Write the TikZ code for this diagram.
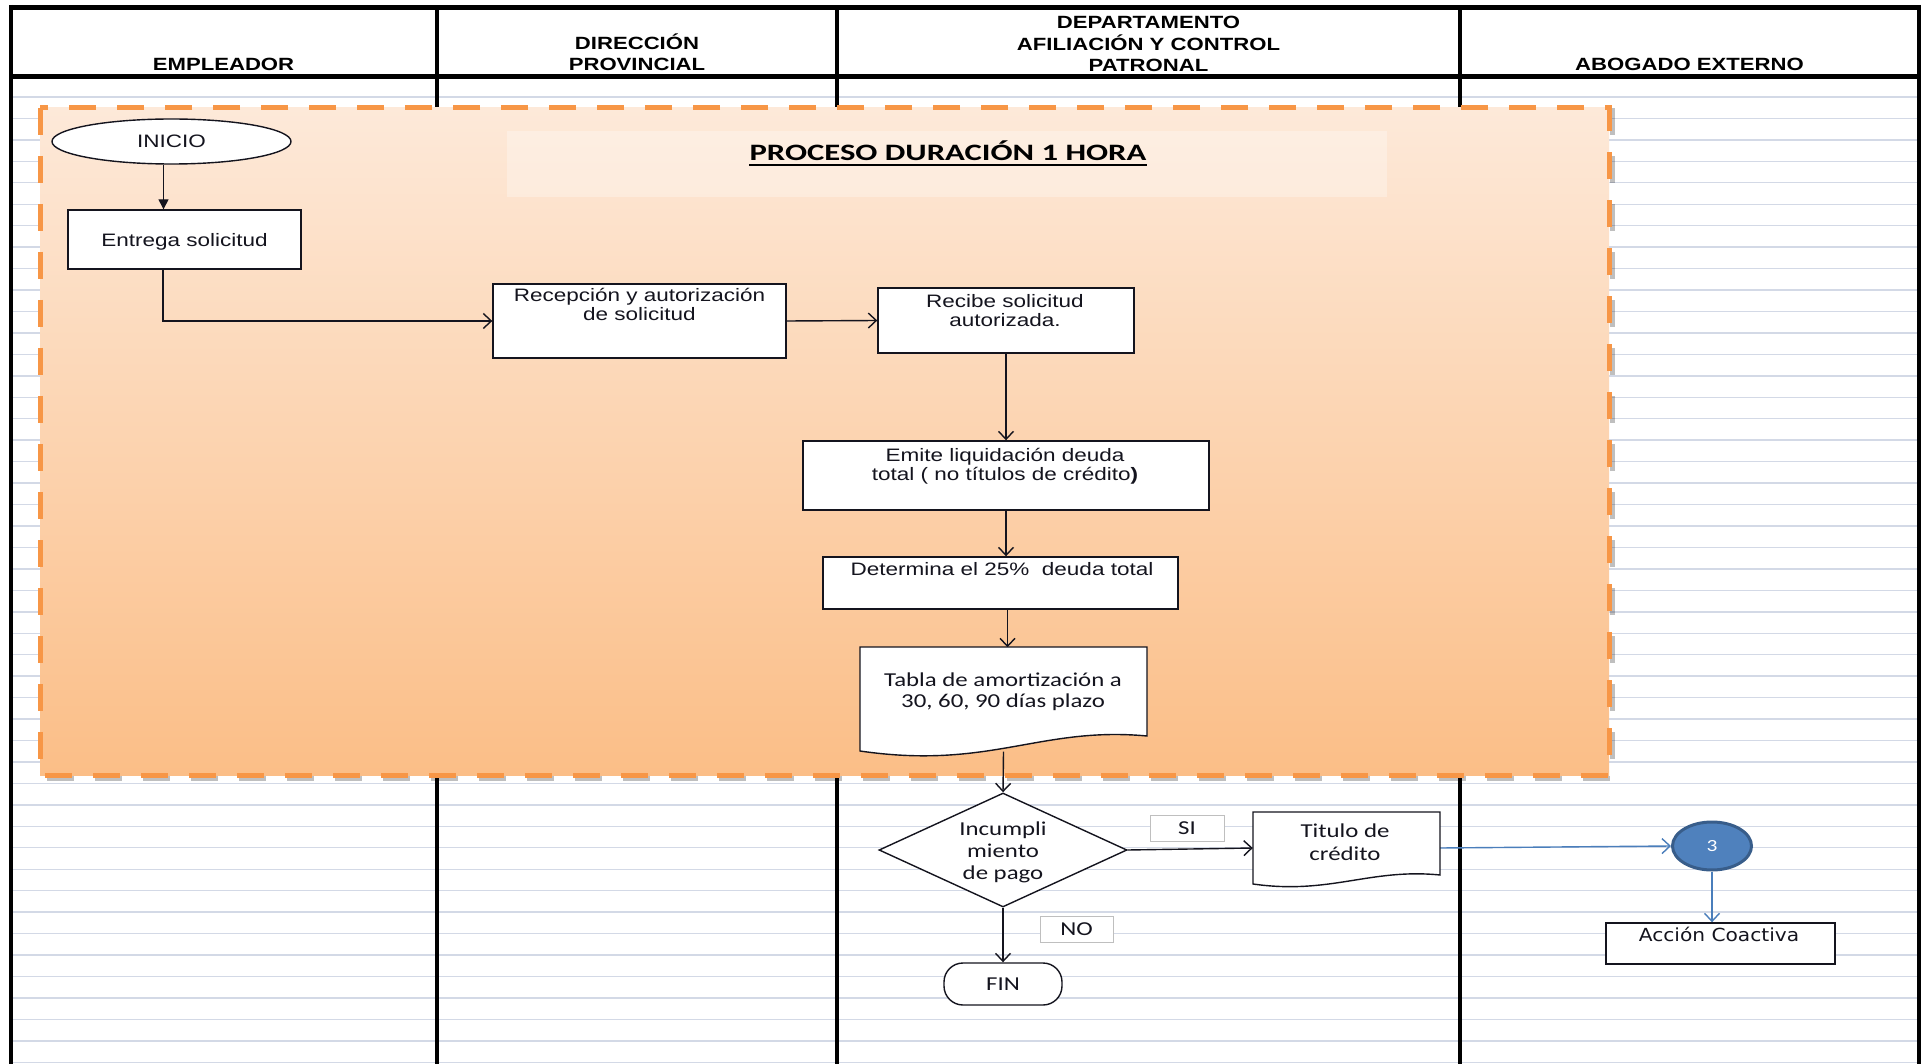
\documentclass[tikz,border=0pt]{standalone}
\usepackage{fontspec}
\setmainfont[FakeStretch=1.25]{Liberation Sans}
\newfontfamily\calib[FakeStretch=1.26]{Carlito}
\newfontfamily\titlefont[FakeStretch=1.39]{Carlito}
\newfontfamily\verd[FakeStretch=1.12]{DejaVu Sans}
\usetikzlibrary{arrows.meta,shapes.geometric,calc}
\pgfdeclarelayer{bg}
\pgfdeclarelayer{conn}
\pgfsetlayers{bg,conn,main}
\definecolor{gridc}{RGB}{211,217,230}
\definecolor{orng}{RGB}{247,150,70}
\definecolor{otop}{RGB}{253,233,217}
\definecolor{obot}{RGB}{251,190,135}
\definecolor{bluef}{RGB}{79,129,189}
\definecolor{blued}{RGB}{56,93,138}
\definecolor{bline}{RGB}{74,126,187}
\definecolor{ink}{RGB}{20,20,30}
\newcommand{\ml}[1]{\begin{tabular}[t]{@{}c@{}}#1\end{tabular}}
\begin{document}
\begin{tikzpicture}[x=1pt,y=-1pt,
  box/.style={draw=ink, line width=1.4, fill=white, rectangle, inner sep=0},
  lbl/.style={draw=black!25, line width=1, fill=white, inner sep=0, text=ink, font=\calib\fontsize{19.7}{22}\selectfont},
  ar/.style={font=\fontsize{18}{19}\selectfont, text=ink, inner sep=0, anchor=base},
  ca/.style={font=\calib\fontsize{19.7}{22}\selectfont, text=ink, inner sep=0, anchor=base},
  hd/.style={font=\bfseries\fontsize{17.7}{21}\selectfont, text=black, inner sep=0, anchor=base},
  frame/.style={draw=black, line width=4.5},
  flow/.style={draw=ink, line width=1.4, -{Straight Barb[length=8pt,width=15pt]}},
  bflow/.style={draw=bline, line width=1.4, -{Straight Barb[length=8pt,width=15pt]}},
]
\useasboundingbox (0,0) rectangle (1928,1064);

% ---------- background: grid, frame, orange region ----------
\begin{pgfonlayer}{bg}
  \fill[white] (0,0) rectangle (1928,1064);
  \foreach \k in {0,...,45} {
    \draw[draw=gridc, line width=1.4] (12,{97+21.45*\k}) -- (1917,{97+21.45*\k});
  }
  \draw[frame] (11,7.5) -- (1919,7.5);
  \draw[frame] (11,76.5) -- (1919,76.5);
  \draw[frame] (11,5) -- (11,1064);
  \draw[frame] (1919,5) -- (1919,1064);
  \draw[frame, line width=4] (437,7.5) -- (437,1064);
  \draw[frame, line width=4] (837,7.5) -- (837,1064);
  \draw[frame, line width=4] (1460,7.5) -- (1460,1064);
  % orange region
  \draw[black, opacity=0.25, line width=5, dash pattern=on 27pt off 21pt] (42,111) rectangle (1612,778);
  \draw[orng, line width=5, dash pattern=on 27pt off 21pt, top color=otop, bottom color=obot] (40,108) rectangle (1609,775);
  \fill[white, opacity=0.3] (507,131) rectangle (1387,197);
\end{pgfonlayer}

% ---------- header texts ----------
\node[hd] (h1) at (223.5,71) {EMPLEADOR};
\node[hd] (h2) at (637,50) {\ml{DIRECCIÓN\\PROVINCIAL}};
\node[hd] (h3) at (1148.5,28.5) {\ml{DEPARTAMENTO\\AFILIACIÓN Y CONTROL\\PATRONAL}};
\node[hd] (h4) at (1689.5,71) {ABOGADO EXTERNO};

% ---------- title ----------
\node[font=\titlefont\bfseries\fontsize{23.5}{26}\selectfont, anchor=base, inner sep=0] (title) at (948,161) {PROCESO DURACIÓN 1 HORA};
\draw[line width=1.8] ($(title.base west)+(0,4)$) -- ($(title.base east)+(0,4)$);

% ---------- nodes ----------
\node[box, shape=ellipse, minimum width=239, minimum height=45, font=\fontsize{18}{19}\selectfont, text=ink] (inicio) at (171.5,141.5) {INICIO};

\node[box, minimum width=233, minimum height=59] (entrega) at (184.5,239.5) {};
\node[ar] (entregat) at (184.5,247) {Entrega solicitud};

\node[box, minimum width=293, minimum height=74] (recep) at (639.5,321) {};
\node[ar] (recept) at (639.5,302) {\ml{Recepción y autorización\\de solicitud}};

\node[box, minimum width=256, minimum height=65] (recibe) at (1006,320.5) {};
\node[ar] (recibet) at (1005,308) {\ml{Recibe solicitud\\autorizada.}};

\node[box, minimum width=406, minimum height=69] (emite) at (1006,475.5) {};
\node[ar] (emitet) at (1005,461.5) {\ml{Emite liquidación deuda\\total ( no títulos de crédito\textbf{)}}};

\node[box, minimum width=355, minimum height=52] (determina) at (1000.5,583) {};
\node[ar] (determinat) at (1002,575) {Determina el 25\%\ \ deuda total};

\node[inner sep=0, minimum width=287, minimum height=104] (tabla) at (1003.5,699.5) {};
\draw[draw=ink, line width=1.4, fill=white] (860,647) -- (1147,647) -- (1147,736) .. controls (1040,726) and (990,770) .. (860,751) -- cycle;
\node[ca, font=\calib\fontsize{19.7}{21}\selectfont] (tablat) at (1003,686) {\ml{Tabla de amortización a\\30, 60, 90 días plazo}};

\node[draw=ink, line width=1.4, fill=white, shape=diamond, inner sep=0, minimum width=248, minimum height=114] (dia) at (1003,850) {};
\node[ca] (diat) at (1003,835) {\ml{Incumpli\\miento\\de pago}};

\node[inner sep=0, minimum width=187, minimum height=72] (titulo) at (1346.5,848) {};
\draw[draw=ink, line width=1.4, fill=white] (1253,812) -- (1440,812) -- (1440,875) .. controls (1370,868) and (1330,895) .. (1253,884) -- cycle;
\node[ca, font=\calib\fontsize{19.7}{23}\selectfont] (titulot) at (1345,837) {\ml{Titulo de\\crédito}};

\node[lbl, minimum width=74, minimum height=26] (si) at (1187,828) {SI};
\node[lbl, minimum width=73, minimum height=26] (no) at (1076.5,929) {NO};

\node[draw=ink, line width=1.4, fill=white, rounded corners=19, minimum width=118, minimum height=42, inner sep=0, font=\calib\fontsize{19.7}{22}\selectfont, text=ink] (fin) at (1003,984) {FIN};

\node[shape=ellipse, draw=blued, line width=3, fill=bluef, minimum width=79, minimum height=48, inner sep=0, text=white, font=\calib\fontsize{17}{19}\selectfont] (c3) at (1712,846) {3};

\node[box, minimum width=229, minimum height=41] (accion) at (1720.5,943.5) {};
\node[anchor=base, inner sep=0, text=ink, font=\verd\fontsize{18}{20}\selectfont] (acciont) at (1719,941.5) {Acción Coactiva};

% ---------- connectors ----------
\begin{pgfonlayer}{conn}
  \draw[draw=ink, line width=1.4, -{Triangle[length=10pt,width=10pt]}] ([xshift=-8]inicio.south) -- ([xshift=-8]inicio.south |- entrega.north);
  \draw[flow] ([xshift=-21.5]entrega.south) |- (recep.west);
  \draw[flow] (recep.east) -- (recibe.west);
  \draw[flow] (recibe.south) -- (emite.north);
  \draw[flow] (emite.south) -- (emite.south |- determina.north);
  \draw[flow] ([xshift=7]determina.south) -- ([xshift=7]determina.south |- tabla.north);
  \draw[flow] (tabla.south) -- (dia.north);
  \draw[flow] (dia.east) -- (titulo.west);
  \draw[flow] (dia.south) -- (fin.north);
  \draw[bflow] (titulo.east) -- (c3.west);
  \draw[bflow] (c3.south) -- (c3.south |- accion.north);
\end{pgfonlayer}
\end{tikzpicture}
\end{document}
